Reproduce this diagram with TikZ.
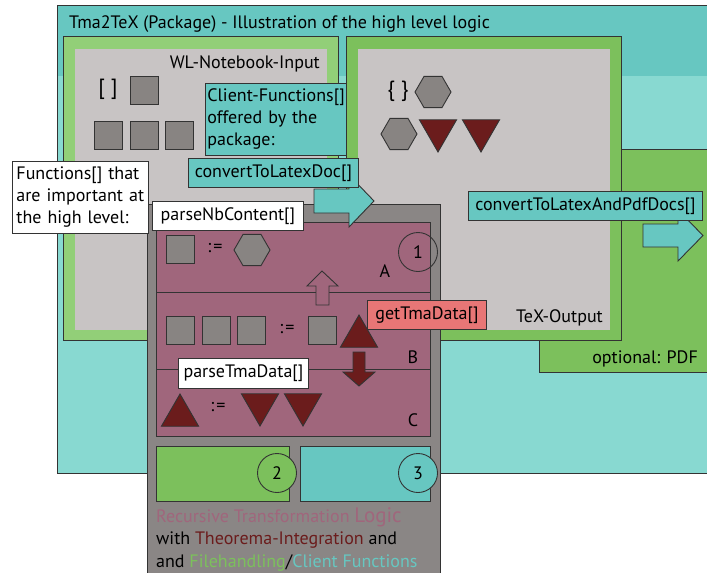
\documentclass[tikz,border=0pt]{standalone}
\usepackage{fontspec}
\setmainfont{PT Sans}
\usetikzlibrary{shapes.geometric}

\definecolor{tealdark}{HTML}{67C7C1}
\definecolor{teallight}{HTML}{88D9D1}
\definecolor{greenin}{HTML}{92CF78}
\definecolor{greenout}{HTML}{7CC05C}
\definecolor{paper}{HTML}{C8C4C4}
\definecolor{boxgray}{HTML}{8A8685}
\definecolor{shapegray}{HTML}{888482}
\definecolor{logicpurple}{HTML}{A0667C}
\definecolor{darkred}{HTML}{6B1C1C}
\definecolor{salmon}{HTML}{E87676}
\definecolor{edgegray}{HTML}{333333}

\tikzset{
  edge/.style={draw=edgegray, line width=0.9pt},
  lbl/.style={font=\fontsize{18}{22}\selectfont, inner sep=0},
  shapebox/.style={edge, fill=shapegray, minimum size=28, inner sep=0},
  hexa/.style={regular polygon, regular polygon sides=6, edge, fill=shapegray, minimum size=36, inner sep=0},
  triup/.style={regular polygon, regular polygon sides=3, edge, fill=darkred, minimum size=43, inner sep=0},
  tridown/.style={triup, shape border rotate=180},
  fnbox/.style={edge, fill=tealdark, font=\fontsize{18}{22}\selectfont, inner sep=4, anchor=north west, minimum height=29},
  whitebox/.style={fnbox, fill=white},
  numcirc/.style={circle, edge, minimum size=39, inner sep=0, font=\fontsize{18}{22}\selectfont},
}

\begin{document}
\begin{tikzpicture}[x=1pt,y=-1pt]
\useasboundingbox (0,0) rectangle (707,573);
\clip (0,0) rectangle (707,573);
\fill[white] (0,0) rectangle (707,573);

% Rahmen des Pakets
\fill[teallight] (57,5) rectangle (712,473);
\fill[tealdark] (57,5) rectangle (712,76);
\draw[edge] (57,5) rectangle (712,473);
\node[lbl, anchor=base west] (title) at (69,28) {Tma2TeX (Package) - Illustration of the high level logic};

% optional: PDF
\draw[edge, fill=greenout] (539,149) rectangle (712,372);
\node[lbl, anchor=base east] (pdftitle) at (698,363) {optional: PDF};

% Eingabe (links) und Ausgabe (rechts)
\draw[edge, fill=greenin] (63,36) rectangle (338,340);
\fill[paper] (75,49) rectangle (327,330);
\draw[edge, fill=greenout] (346,36) rectangle (621,340);
\fill[paper] (358,49) rectangle (610,330);
\node[lbl, anchor=base east] (intitle) at (320,68) {WL-Notebook-Input};
\node[lbl, anchor=base east] (outtitle) at (603,322) {TeX-Output};

% Symbole im Notebook
\node[lbl, font=\fontsize{22}{22}\selectfont] (listsym) at (108,89) {[ ]};
\node[shapebox] (inA) at (144,90) {};
\node[shapebox] (inB1) at (108,135) {};
\node[shapebox] (inB2) at (144,135) {};
\node[shapebox] (inB3) at (179,135) {};

% Symbole in der TeX-Ausgabe
\node[lbl, font=\fontsize{22}{22}\selectfont] (assocsym) at (398,91) {\{ \}};
\node[hexa] (outA) at (433,92) {};
\node[hexa] (outB) at (399,134) {};
\node[tridown] (outC1) at (438,130.5) {};
\node[tridown] (outC2) at (481,130.5) {};

% Transformationslogik
\draw[edge, fill=boxgray] (147,204) rectangle (440,580);
\draw[edge, fill=logicpurple] (156,222) rectangle (430,436);
\draw[edge] (156,292) -- (430,292);
\draw[edge] (156,369) -- (430,369);

% Zeile A
\node[shapebox] (nbA) at (180,249) {};
\node[lbl] (defA) at (215,248) {:\kern2pt=};
\node[hexa] (hexA) at (252,250) {};
\node[lbl] (labA) at (385,271) {A};
\node[numcirc] (one) at (418,252) {1};
\draw[edge, fill=logicpurple] (316,305) -- (316,286) -- (307,286) -- (322,271)
  -- (338,286) -- (329,286) -- (329,305) -- cycle;

% Zeile B
\node[shapebox] (nbB1) at (180,330) {};
\node[shapebox] (nbB2) at (216,330) {};
\node[shapebox] (nbB3) at (251,330) {};
\node[lbl] (defB) at (287,329) {:\kern2pt=};
\node[shapebox] (nbB4) at (322,330) {};
\node[triup] (triB) at (359,336.5) {};
\node[lbl] (labB) at (413,357) {B};
\draw[edge, fill=darkred] (353,352) -- (365,352) -- (365,372) -- (375,372)
  -- (359,386) -- (343,372) -- (353,372) -- cycle;

% Zeile C
\node[triup] (triC) at (180,415.5) {};
\node[lbl] (defC) at (218,407) {:\kern2pt=};
\node[tridown] (triC1) at (260,404.5) {};
\node[tridown] (triC2) at (303,404.5) {};
\node[lbl] (labC) at (413,420) {C};

% Filehandling / Client
\draw[edge, fill=greenout] (156,446) rectangle (289,501);
\draw[edge, fill=tealdark] (300,446) rectangle (430,501);
\node[numcirc, fill=greenout] (two) at (277,473) {2};
\node[numcirc, fill=tealdark] (three) at (418,473) {3};

\node[lbl, anchor=base west, text=logicpurple] (legend1) at (156,522)
  {Recursive Transformation {\fontsize{21}{21}\selectfont Logic}};
\node[lbl, anchor=base west] (legend2) at (156,544)
  {with \textcolor{darkred}{Theorema-Integration} and};
\node[lbl, anchor=base west] (legend3) at (156,567)
  {and \textcolor{greenout}{Filehandling}/\textcolor{tealdark}{Client Functions}};

% Client-Funktionen
\draw[edge, fill=tealdark] (314,189) -- (349,189) -- (349,175) -- (374,201)
  -- (349,227) -- (349,213) -- (314,213) -- cycle;
\node[fnbox, minimum width=170] (texdoc) at (188,158) {convertToLatexDoc[]};
\node[fnbox, inner xsep=2, text width=137, minimum height=72, align=left] (clientfn) at (205,83)
  {\mbox{Client-Functions[]}\\offered by the\\package:};
\draw[edge, fill=tealdark] (643,224) -- (678,224) -- (678,210) -- (703,235.5)
  -- (678,261) -- (678,247) -- (643,247) -- cycle;
\node[fnbox, minimum width=234] (pdfdoc) at (468,191) {convertToLatexAndPdfDocs[]};

% wichtige Funktionen
\node[whitebox, text width=128, minimum height=72, align=left] (highlevel) at (12,161)
  {Functions[] that\\are important at\\the high level:};
\node[whitebox, minimum width=151] (nbcontent) at (152,201) {parseNbContent[]};
\node[whitebox, minimum width=130, minimum height=30] (tmadata) at (178,358) {parseTmaData[]};
\node[fnbox, fill=salmon, minimum width=119] (gettma) at (367,300) {getTmaData[]};
\end{tikzpicture}
\end{document}
